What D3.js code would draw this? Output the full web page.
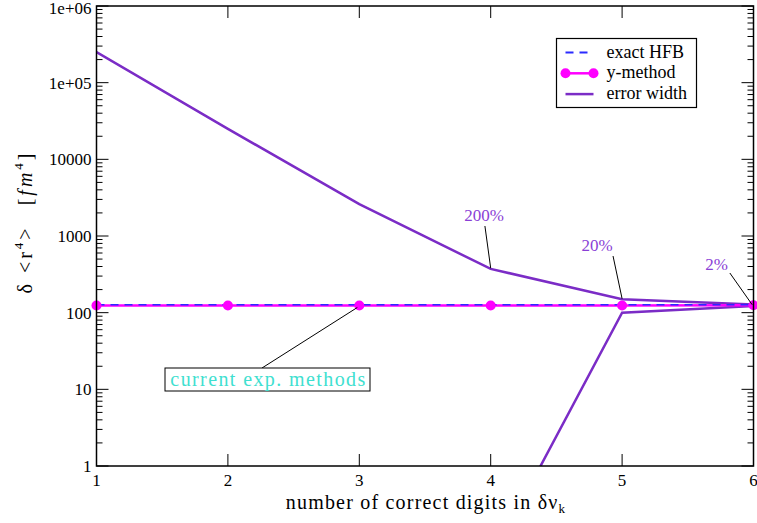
<!DOCTYPE html>
<html>
<head>
<meta charset="utf-8">
<script src="https://cdn.jsdelivr.net/npm/d3@7"></script>
<style>
  body { margin: 0; background: #fff; }
  svg text { font-family: "Liberation Serif", "Times New Roman", Times, "DejaVu Serif", serif; }
</style>
</head>
<body>
<script>
var width = 757, height = 523;

// data
var digits = [1, 2, 3, 4, 5, 6];
var exactHFB = [127, 127, 127, 127, 127, 127];
var yMethod = [124, 124, 124, 124, 124, 125];
var errUpper = [250000, 25000, 2600, 372, 150, 127.5];
var errLowerX = [4, 5, 6];
var errLower = [0.06, 100, 122.5];
var yTickVals = [1, 10, 100, 1000, 10000, 100000, 1000000];
var yTickLabels = ["1", "10", "100", "1000", "10000", "1e+05", "1e+06"];
// percentage notes: text anchor (tx, ty), pointer start (lx, ly), pointer end (px, py)
var notes = [
  {label: "200%", tx: 3.95, ty: 1570, lx: 3.956, ly: 1350, px: 4, py: 380},
  {label: "20%", tx: 4.81, ty: 637, lx: 4.931, ly: 548, px: 5, py: 152},
  {label: "2%", tx: 5.72, ty: 360, lx: 5.82, ly: 329, px: 5.99, py: 127}
];

var margin = {left: 96.5, right: 3.5, top: 6, bottom: 57};
var x = d3.scaleLinear().domain([1, 6]).range([margin.left, width - margin.right]);
var y = d3.scaleLog().domain([1, 1e6]).range([height - margin.bottom, margin.top]);

var violet = "#7b2cc6";

var svg = d3.select("body")
.append("svg")
.attr("width", width)
.attr("height", height);

svg.append("defs").append("clipPath")
	.attr("id", "plotClip")
	.append("rect")
		.attr("x", x(1))
		.attr("y", y(1e6))
		.attr("width", x(6) - x(1))
		.attr("height", y(1) - y(1e6));

// ticks on all four sides, pointing inward
var minorVals = [];
for (var d = 0; d < 6; d++) {
    for (var m = 2; m <= 9; m++) minorVals.push(m * Math.pow(10, d));
}
var ticks = svg.append("g").attr("stroke", "#000").attr("stroke-width", 1);
yTickVals.forEach(function(v){
    ticks.append("line").attr("x1", x(1)).attr("x2", x(1) + 12).attr("y1", y(v)).attr("y2", y(v));
    ticks.append("line").attr("x1", x(6)).attr("x2", x(6) - 12).attr("y1", y(v)).attr("y2", y(v));
});
minorVals.forEach(function(v){
    ticks.append("line").attr("x1", x(1)).attr("x2", x(1) + 6).attr("y1", y(v)).attr("y2", y(v));
    ticks.append("line").attr("x1", x(6)).attr("x2", x(6) - 6).attr("y1", y(v)).attr("y2", y(v));
});
digits.forEach(function(v){
    ticks.append("line").attr("x1", x(v)).attr("x2", x(v)).attr("y1", y(1)).attr("y2", y(1) - 12);
    ticks.append("line").attr("x1", x(v)).attr("x2", x(v)).attr("y1", y(1e6)).attr("y2", y(1e6) + 12);
});

svg.selectAll(".ylab")
.data(yTickVals)
.enter().append("text")
.attr("class", "ylab")
.attr("x", x(1) - 5)
.attr("y", function(d){ return Math.max(y(d) + 6, 14); })
.attr("text-anchor", "end")
.attr("font-size", 17)
.text(function(d, i){ return yTickLabels[i]; });

svg.selectAll(".xlab")
.data(digits)
.enter().append("text")
.attr("class", "xlab")
.attr("x", function(d){ return x(d); })
.attr("y", y(1) + 20)
.attr("text-anchor", "middle")
.attr("font-size", 17)
.text(function(d){ return d; });

// axis titles
var xt = svg.append("text")
.attr("x", 426)
.attr("y", 509)
.attr("text-anchor", "middle")
.attr("font-size", 20)
.attr("letter-spacing", 1.2);
xt.append("tspan").text("number of correct digits in δν");
xt.append("tspan").attr("font-size", 13).attr("dy", 4).text("k");

var yt = svg.append("text")
.attr("transform", "translate(32,222) rotate(-90)")
.attr("text-anchor", "middle")
.attr("font-size", 20)
.attr("letter-spacing", 3);
yt.append("tspan").text("δ <r");
yt.append("tspan").attr("font-size", 13).attr("dy", -9).text("4");
yt.append("tspan").attr("dy", 9).text(">");
yt.append("tspan").attr("dx", 20).text("[");
yt.append("tspan").attr("font-style", "italic").text("fm");
yt.append("tspan").attr("font-size", 13).attr("dy", -9).text("4");
yt.append("tspan").attr("dy", 9).text("]");

var plot = svg.append("g").attr("clip-path", "url(#plotClip)");

var line = d3.line()
.x(function(d){ return x(d[0]); })
.y(function(d){ return y(d[1]); });

plot.append("path")
.datum(digits.map(function(d, i){ return [d, errUpper[i]]; }))
.attr("d", line)
.attr("fill", "none")
.attr("stroke", violet)
.attr("stroke-width", 2.5);

plot.append("path")
.datum(errLowerX.map(function(d, i){ return [d, errLower[i]]; }))
.attr("d", line)
.attr("fill", "none")
.attr("stroke", violet)
.attr("stroke-width", 2.5);

plot.append("path")
.datum(digits.map(function(d, i){ return [d, yMethod[i]]; }))
.attr("d", line)
.attr("fill", "none")
.attr("stroke", "#ff00ff")
.attr("stroke-width", 2.5);

plot.append("path")
.datum(digits.map(function(d, i){ return [d, exactHFB[i]]; }))
.attr("d", line)
.attr("fill", "none")
.attr("stroke", "#2b2bff")
.attr("stroke-width", 1.6)
.attr("stroke-dasharray", "8,6");

svg.selectAll(".ym")
.data(digits)
.enter().append("circle")
.attr("class", "ym")
.attr("cx", function(d){ return x(d); })
.attr("cy", function(d, i){ return y(yMethod[i]); })
.attr("r", 5)
.attr("fill", "#ff00ff");

// frame
svg.append("rect")
.attr("x", x(1)).attr("y", y(1e6))
.attr("width", x(6) - x(1)).attr("height", y(1) - y(1e6))
.attr("fill", "none").attr("stroke", "#000").attr("stroke-width", 1.5);

// percentage notes
notes.forEach(function(n){
    svg.append("line")
        .attr("x1", x(n.lx)).attr("y1", y(n.ly))
        .attr("x2", x(n.px)).attr("y2", y(n.py))
        .attr("stroke", "#000").attr("stroke-width", 1);
    svg.append("text")
        .attr("x", x(n.tx))
        .attr("y", y(n.ty))
        .attr("text-anchor", "middle")
        .attr("font-size", 17)
        .attr("fill", "#8a3fd6")
        .text(n.label);
});

// current exp. methods box
svg.append("line")
.attr("x1", 262).attr("y1", 368)
.attr("x2", x(3) - 2).attr("y2", y(yMethod[2]) + 2)
.attr("stroke", "#000").attr("stroke-width", 1);
svg.append("rect")
.attr("x", 165).attr("y", 368).attr("width", 205).attr("height", 23)
.attr("fill", "#fff").attr("stroke", "#000").attr("stroke-width", 1);
svg.append("text")
.attr("x", 268.5).attr("y", 386)
.attr("text-anchor", "middle")
.attr("font-size", 20)
.attr("letter-spacing", 1.4)
.attr("fill", "#40e0d0")
.text("current exp. methods");

// legend
var legend = svg.append("g").attr("transform", "translate(556.5,38.5)");
legend.append("rect")
.attr("width", 140).attr("height", 69)
.attr("fill", "#fff").attr("stroke", "#000").attr("stroke-width", 1.2);
var rows = [
  {name: "exact HFB", color: "#2b2bff", dash: "8,6", w: 2, dot: false},
  {name: "y-method", color: "#ff00ff", dash: null, w: 2.5, dot: true},
  {name: "error width", color: violet, dash: null, w: 2.5, dot: false}
];
rows.forEach(function(r, i){
    var yy = 14 + i * 20.8;
    legend.append("line")
        .attr("x1", 9).attr("x2", 37).attr("y1", yy).attr("y2", yy)
        .attr("stroke", r.color).attr("stroke-width", r.w)
        .attr("stroke-dasharray", r.dash);
    if (r.dot) {
        legend.append("circle").attr("cx", 9).attr("cy", yy).attr("r", 5).attr("fill", r.color);
        legend.append("circle").attr("cx", 37).attr("cy", yy).attr("r", 5).attr("fill", r.color);
    }
    legend.append("text")
        .attr("x", 50).attr("y", yy + 5)
        .attr("font-size", 18)
        .text(r.name);
});
</script>
</body>
</html>
